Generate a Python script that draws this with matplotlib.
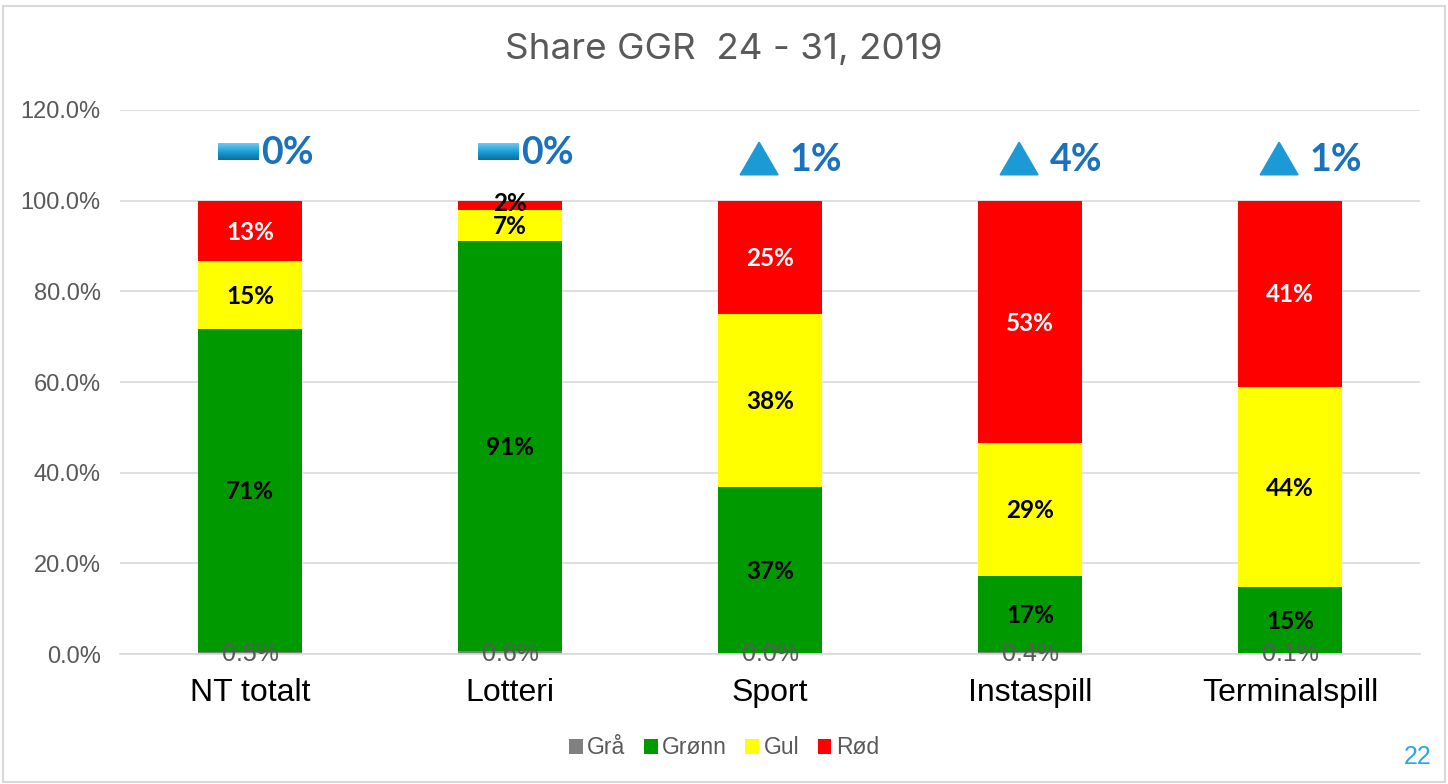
import matplotlib.pyplot as plt
import matplotlib.patches as mpatches
import matplotlib.colors as mcolors
import numpy as np

categories = ["NT totalt", "Lotteri", "Sport", "Instaspill", "Terminalspill"]
gra = [0.5, 0.6, 0.0, 0.4, 0.1]
gronn = [71.2, 90.6, 36.8, 16.8, 14.6]
gul = [15.0, 6.8, 38.2, 29.4, 44.3]
rod = [13.3, 2.0, 25.0, 53.4, 41.0]
change = ["0%", "0%", "1%", "4%", "1%"]
change_dir = ["flat", "flat", "up", "up", "up"]

series_names = ["Grå", "Grønn", "Gul", "Rød"]
series_colors = ["#808080", "#009900", "#ffff00", "#ff0000"]

fig = plt.figure(figsize=(14.48, 7.84), dpi=100)
ax = fig.add_axes([0.0829, 0.1658, 0.8978, 0.6939])

x = np.arange(len(categories))
width = 0.4
bottom = np.zeros(len(categories))
handles = []
for name, vals, col in zip(series_names, [gra, gronn, gul, rod], series_colors):
    bars = ax.bar(x, vals, width, bottom=bottom, color=col, label=name, zorder=2)
    handles.append(bars)
    for i, v in enumerate(vals):
        mid = bottom[i] + v / 2
        if name == "Grå":
            ax.text(x[i], 0, f"{v:.1f}%", ha="center", va="center", color="#595959",
                    fontsize=18, family="Liberation Sans", zorder=4)
        else:
            txtcol = "white" if name == "Rød" and v > 5 else "black"
            y = mid if v > 5 else mid + 0.6
            ax.text(x[i], y - 0.3, f"{round(v):d}%", ha="center", va="center", color=txtcol,
                    fontsize=17.5, fontweight="bold", family="Lato", zorder=4)
    bottom += np.array(vals)

ax.set_xlim(-0.5, len(categories) - 0.5)
ax.set_ylim(0, 120)
ax.set_yticks(np.arange(0, 121, 20))
ax.set_yticklabels([f"{t:.1f}%" for t in np.arange(0, 121, 20)])
ax.set_xticks(x)
ax.set_xticklabels(categories)
ax.tick_params(axis="y", length=0, labelsize=17, labelcolor="#595959", pad=14)
ax.tick_params(axis="x", length=0, labelsize=23, labelcolor="black", pad=17)
for lbl in ax.get_xticklabels() + ax.get_yticklabels():
    lbl.set_family("Liberation Sans")
ax.grid(axis="y", color="#d9d9d9", linewidth=1.2, zorder=0)
for s in ["top", "right", "left"]:
    ax.spines[s].set_visible(False)
ax.spines["bottom"].set_color("#d9d9d9")
ax.spines["bottom"].set_linewidth(1.2)

# change markers above bars
grad = np.linspace(0, 1, 20).reshape(-1, 1)
dash_cmap = mcolors.LinearSegmentedColormap.from_list("g", ["#6cc6f0", "#1ba0dc", "#0d6f9c"])
for i, (c, d) in enumerate(zip(change, change_dir)):
    if d == "flat":
        ax.imshow(grad, cmap=dash_cmap, aspect="auto",
                  extent=(x[i] - 0.123, x[i] + 0.031, 109.0, 112.7), zorder=3, origin="upper")
        ax.text(x[i] + 0.042, 110.6, c, ha="left", va="center", color="#1a72bf",
                fontsize=27, fontweight="bold", family="Lato")
    else:
        tri = mpatches.Polygon([[x[i] - 0.115, 105.7], [x[i] + 0.031, 105.7],
                                [x[i] - 0.042, 112.9]], closed=True,
                               color="#1b9ad6", zorder=3)
        ax.add_patch(tri)
        ax.text(x[i] + 0.075, 108.9, c, ha="left", va="center", color="#1a72bf",
                fontsize=27, fontweight="bold", family="Lato")

fig.text(0.5, 0.937, "Share GGR  24 - 31, 2019", ha="center", va="center",
         fontsize=26.5, color="#595959", family="Inter")

fig.legend(handles=handles, labels=series_names, loc="center", bbox_to_anchor=(0.5, 0.046),
           ncol=4, frameon=False, handlelength=0.6, handleheight=0.6,
           handletextpad=0.2, columnspacing=0.8, labelcolor="#595959",
           prop={"family": "Liberation Sans", "size": 16.5})

fig.text(0.9793, 0.034, "22", ha="center", va="center", fontsize=18, color="#29a8e0",
         family="Liberation Sans")

border = mpatches.Rectangle((0.002, 0.002), 0.996, 0.99, transform=fig.transFigure,
                            fill=False, edgecolor="#d9d9d9", linewidth=1.5)
fig.patches.append(border)

fig.savefig("out.png", dpi=100)
